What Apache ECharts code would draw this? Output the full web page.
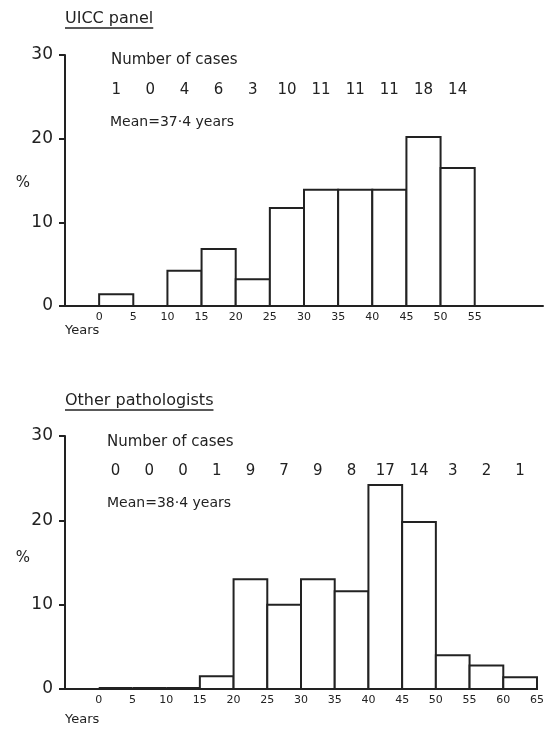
<!DOCTYPE html>
<html><head><meta charset="utf-8">
<script src="https://cdn.jsdelivr.net/npm/echarts@6/dist/echarts.min.js"></script>
<style>html,body{margin:0;padding:0;background:#fff}#c{width:547px;height:732px}</style>
</head><body><div id="c"></div>
<script>
// Age bins (years) shared by both panels
const binStartsUICC = [0, 5, 10, 15, 20, 25, 30, 35, 40, 45, 50];
const casesUICC = [1, 0, 4, 6, 3, 10, 11, 11, 11, 18, 14];
const pctUICC = [1.4, 0, 4.2, 6.8, 3.2, 11.7, 13.9, 13.9, 13.9, 20.2, 16.5];

const binStartsOther = [0, 5, 10, 15, 20, 25, 30, 35, 40, 45, 50, 55, 60];
const casesOther = [0, 0, 0, 1, 9, 7, 9, 8, 17, 14, 3, 2, 1];
const pctOther = [0, 0, 0, 1.5, 13.0, 10.0, 13.0, 11.6, 24.2, 19.8, 4.0, 2.8, 1.4];

const yTicks = [0, 10, 20, 30];
const binWidth = 5;
const countRowY = 25.8;

const titles = ['UICC panel', 'Other pathologists'];
const means = ['Mean=37·4 years', 'Mean=38·4 years'];

const INK = '#222';
const FONT = '"DejaVu Sans", sans-serif';

function histData(starts, vals) {
  return starts.map((s, i) => [s, s + binWidth, vals[i]]);
}
function countData(starts, counts) {
  return starts.map((s, i) => [s + binWidth / 2, countRowY, counts[i]]);
}

function makeHistRender(drawZero) {
  return function (params, api) {
    const s = api.value(0), e = api.value(1), v = api.value(2);
    const p0 = api.coord([s, v]);
    const p1 = api.coord([e, 0]);
    if (v === 0) {
      if (!drawZero) return null;
      return {
        type: 'line',
        shape: { x1: p0[0], y1: p1[1] - 1, x2: p1[0], y2: p1[1] - 1 },
        style: { stroke: INK, lineWidth: 2 }
      };
    }
    return {
      type: 'rect',
      shape: { x: p0[0], y: p0[1], width: p1[0] - p0[0], height: p1[1] - p0[1] },
      style: { fill: '#fff', stroke: INK, lineWidth: 2 }
    };
  };
}
const countRender = function (params, api) {
  const p = api.coord([api.value(0), api.value(1)]);
  return {
    type: 'text', x: p[0], y: p[1],
    style: { text: String(api.value(2)), fill: INK, font: '15px ' + FONT, align: 'center', verticalAlign: 'middle' }
  };
};

const grids = [
  { left: 65, right: 4, top: 55, height: 251 },
  { left: 65, right: 4, top: 436, height: 253 }
];
const maxLabel = [55, 65];

const xAxes = grids.map((g, i) => ({
  type: 'value', gridIndex: i, min: -5, max: 65, interval: 5,
  axisLine: { onZero: false, lineStyle: { color: INK, width: 2 } },
  axisTick: { show: false }, splitLine: { show: false },
  axisLabel: {
    color: INK, fontFamily: FONT, fontSize: 11, margin: 6,
    formatter: v => (v < 0 || v > maxLabel[i]) ? '' : String(v)
  }
}));
const yAxes = grids.map((g, i) => ({
  type: 'value', gridIndex: i, min: 0, max: 30, interval: 10,
  axisLine: { show: true, onZero: false, lineStyle: { color: INK, width: 2 } },
  axisTick: { show: true, length: 6, lineStyle: { color: INK, width: 2 } },
  splitLine: { show: false },
  axisLabel: { color: INK, fontFamily: FONT, fontSize: 17, margin: 12,
    formatter: v => yTicks.includes(v) ? String(v) : '' }
}));

const series = [
  { type: 'custom', xAxisIndex: 0, yAxisIndex: 0, renderItem: makeHistRender(false), data: histData(binStartsUICC, pctUICC), encode: { x: [0, 1], y: 2 } },
  { type: 'custom', xAxisIndex: 0, yAxisIndex: 0, renderItem: countRender, data: countData(binStartsUICC, casesUICC), encode: { x: 0, y: 1 } },
  { type: 'custom', xAxisIndex: 1, yAxisIndex: 1, renderItem: makeHistRender(true), data: histData(binStartsOther, pctOther), encode: { x: [0, 1], y: 2 } },
  { type: 'custom', xAxisIndex: 1, yAxisIndex: 1, renderItem: countRender, data: countData(binStartsOther, casesOther), encode: { x: 0, y: 1 } }
];

// measure title widths for the underline
const ctx = document.createElement('canvas').getContext('2d');
ctx.font = '16px ' + FONT;
const titleY = [20, 402];
const graphic = [];
titles.forEach((t, i) => {
  const w = ctx.measureText(t).width;
  graphic.push({ type: 'text', left: 65, top: titleY[i] - 9, style: { text: t, fill: INK, font: '16px ' + FONT } });
  graphic.push({ type: 'line', shape: { x1: 65, y1: titleY[i] + 8, x2: 65 + w, y2: titleY[i] + 8 }, style: { stroke: INK, lineWidth: 1.5 } });
});
const ncX = [111, 107], ncY = [60, 442];
const mX = [110, 107], mY = [122, 503];
for (let i = 0; i < 2; i++) {
  graphic.push({ type: 'text', x: ncX[i], y: ncY[i], style: { text: 'Number of cases', fill: INK, font: '15px ' + FONT, verticalAlign: 'middle' } });
  graphic.push({ type: 'text', x: mX[i], y: mY[i], style: { text: means[i], fill: INK, font: '14px ' + FONT, verticalAlign: 'middle' } });
}
const pctY = [183, 558], yearsY = [331, 720];
for (let i = 0; i < 2; i++) {
  graphic.push({ type: 'text', x: 23, y: pctY[i], style: { text: '%', fill: INK, font: '15px ' + FONT, align: 'center', verticalAlign: 'middle' } });
  graphic.push({ type: 'text', x: 65, y: yearsY[i], style: { text: 'Years', fill: INK, font: '13px ' + FONT, verticalAlign: 'middle' } });
}

const chart = echarts.init(document.getElementById('c'), null, { renderer: 'canvas' });
chart.setOption({
  animation: false,
  backgroundColor: '#fff',
  grid: grids,
  xAxis: xAxes,
  yAxis: yAxes,
  series: series,
  graphic: graphic
});
</script></body></html>
